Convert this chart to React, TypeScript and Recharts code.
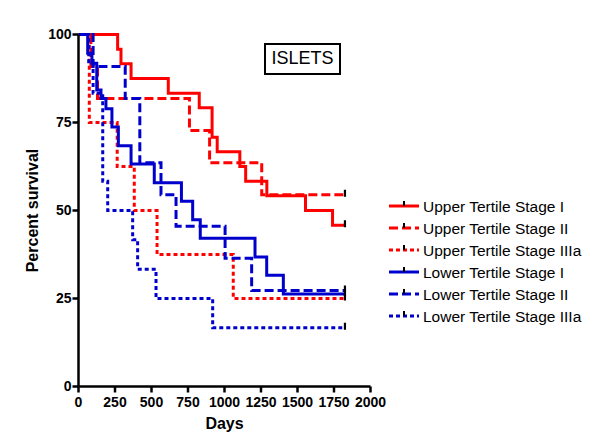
import React from 'react';
import { LineChart, Line, XAxis, YAxis, Legend } from 'recharts';

// Kaplan-Meier steps: days and percent survival
const upperStageIDays = [0, 268, 291, 360, 615, 827, 915, 950, 1105, 1145, 1290, 1555, 1740, 1825];
const upperStageIPct = [100, 95.8, 91.7, 87.5, 83.3, 79.2, 70.8, 66.7, 62.5, 58.3, 54.2, 50, 45.8, 45.8];

const upperStageIIDays = [0, 85, 130, 760, 898, 1255, 1825];
const upperStageIIPct = [100, 90.9, 81.8, 72.7, 63.6, 54.5, 54.5];

const upperStageIIIaDays = [0, 74, 265, 382, 538, 1060, 1825];
const upperStageIIIaPct = [100, 75, 62.5, 50, 37.5, 25, 25];

const lowerStageIDays = [0, 63, 92, 125, 154, 188, 229, 273, 360, 519, 705, 782, 834, 1209, 1289, 1403, 1825];
const lowerStageIPct = [100, 94.7, 91.8, 84.2, 81.8, 78.9, 73.7, 68.4, 63.2, 57.9, 52.6, 47.4, 42.1, 36.8, 31.6, 26.3, 26.3];

const lowerStageIIDays = [0, 100, 320, 420, 565, 668, 1004, 1186, 1825];
const lowerStageIIPct = [100, 90.9, 81.8, 63.6, 54.5, 45.5, 36.4, 27.3, 27.3];

const lowerStageIIIaDays = [0, 70, 100, 166, 200, 371, 405, 531, 919, 1825];
const lowerStageIIIaPct = [100, 91.7, 83.3, 58.3, 50, 41.7, 33.3, 25, 16.7, 16.7];

const seriesNames = [
  'Upper Tertile Stage I',
  'Upper Tertile Stage II',
  'Upper Tertile Stage IIIa',
  'Lower Tertile Stage I',
  'Lower Tertile Stage II',
  'Lower Tertile Stage IIIa',
];

const xTicks = [0, 250, 500, 750, 1000, 1250, 1500, 1750, 2000];
const yTicks = [0, 25, 50, 75, 100];

const RED = '#FF0000';
const BLUE = '#0000CC';
const FONT = '"Liberation Sans", Arial, Helvetica, sans-serif';

const build = (days: number[], pct: number[]) => days.map((d, i) => ({ x: d, y: pct[i] }));

const series = [
  { name: seriesNames[0], data: build(upperStageIDays, upperStageIPct), color: RED, dash: undefined },
  { name: seriesNames[1], data: build(upperStageIIDays, upperStageIIPct), color: RED, dash: '9 4' },
  { name: seriesNames[2], data: build(upperStageIIIaDays, upperStageIIIaPct), color: RED, dash: '4 3' },
  { name: seriesNames[3], data: build(lowerStageIDays, lowerStageIPct), color: BLUE, dash: undefined },
  { name: seriesNames[4], data: build(lowerStageIIDays, lowerStageIIPct), color: BLUE, dash: '9 4' },
  { name: seriesNames[5], data: build(lowerStageIIIaDays, lowerStageIIIaPct), color: BLUE, dash: '4 3' },
];

const makeEndTick = (n: number, key: string) => (props: any) => {
  const { cx, cy, index } = props;
  if (index !== n - 1 || cx == null || cy == null) return <g key={`${key}-d${index}`} />;
  return (
    <line
      key={`${key}-d${index}`}
      x1={cx}
      x2={cx}
      y1={cy - 5}
      y2={cy + 2}
      stroke="#000"
      strokeWidth={2.2}
    />
  );
};

const YAxisLabel = (props: any) => {
  const vb = props.viewBox || {};
  const x = (vb.x ?? 0) + 19.5;
  const y = (vb.y ?? 0) + (vb.height ?? 0) / 2;
  return (
    <text
      x={x}
      y={y}
      transform={`rotate(-90, ${x}, ${y})`}
      textAnchor="middle"
      fontFamily={FONT}
      fontWeight="bold"
      fontSize={16}
      fill="#000"
    >
      Percent survival
    </text>
  );
};

const XAxisLabel = (props: any) => {
  const vb = props.viewBox || {};
  const x = (vb.x ?? 0) + (vb.width ?? 0) / 2;
  const y = (vb.y ?? 0) + 42;
  return (
    <text x={x} y={y} textAnchor="middle" fontFamily={FONT} fontWeight="bold" fontSize={16} fill="#000">
      Days
    </text>
  );
};

const renderLegend = () => (
  <svg width={215} height={135} style={{ display: 'block' }}>
    {series.map((s, i) => {
      const cy = 10 + i * 22;
      return (
        <g key={s.name}>
          <line x1={4} x2={34} y1={cy} y2={cy} stroke={s.color} strokeWidth={3} strokeDasharray={s.dash} />
          <line x1={19} x2={19} y1={cy - 5} y2={cy} stroke="#000" strokeWidth={2} />
          <text x={38} y={cy + 5.5} fontFamily={FONT} fontSize={15.5} fill="#000">
            {s.name}
          </text>
        </g>
      );
    })}
  </svg>
);

export default function App() {
  return (
    <div style={{ position: 'absolute', left: 0, top: 0, width: 600, height: 445, background: '#fff' }}>
      <LineChart
        width={600}
        height={445}
        margin={{ top: 34.5, right: 229.5, bottom: 28.5, left: 18.5 }}
      >
        <XAxis
          type="number"
          dataKey="x"
          domain={[0, 2000]}
          ticks={xTicks}
          interval={0}
          allowDataOverflow
          height={30}
          axisLine={{ stroke: '#000', strokeWidth: 2.5 }}
          tickLine={{ stroke: '#000', strokeWidth: 2.5 }}
          tickSize={6}
          tickMargin={5}
          tick={{ fill: '#000', fontFamily: FONT, fontWeight: 'bold', fontSize: 14 }}
          label={<XAxisLabel />}
        />
        <YAxis
          type="number"
          dataKey="y"
          domain={[0, 100]}
          ticks={yTicks}
          interval={0}
          width={60}
          axisLine={{ stroke: '#000', strokeWidth: 2.5 }}
          tickLine={{ stroke: '#000', strokeWidth: 2.5 }}
          tickSize={6}
          tickMargin={1}
          tick={{ fill: '#000', fontFamily: FONT, fontWeight: 'bold', fontSize: 14 }}
          label={<YAxisLabel />}
        />
        <Legend
          layout="vertical"
          align="center"
          verticalAlign="middle"
          content={renderLegend}
          wrapperStyle={{ position: 'absolute', left: 385, top: 196, width: 215, height: 135 }}
        />
        {series.map((s) => (
          <Line
            key={s.name}
            name={s.name}
            data={s.data}
            dataKey="y"
            type="stepAfter"
            stroke={s.color}
            strokeWidth={3}
            strokeDasharray={s.dash}
            dot={makeEndTick(s.data.length, s.name)}
            activeDot={false}
            isAnimationActive={false}
            legendType="none"
          />
        ))}
      </LineChart>
      <div
        style={{
          position: 'absolute',
          left: 264,
          top: 42.5,
          width: 77,
          height: 32,
          boxSizing: 'border-box',
          border: '2.5px solid #000',
          display: 'flex',
          alignItems: 'center',
          justifyContent: 'center',
          fontFamily: FONT,
          fontSize: 18,
          color: '#000',
          background: '#fff',
        }}
      >
        ISLETS
      </div>
    </div>
  );
}
